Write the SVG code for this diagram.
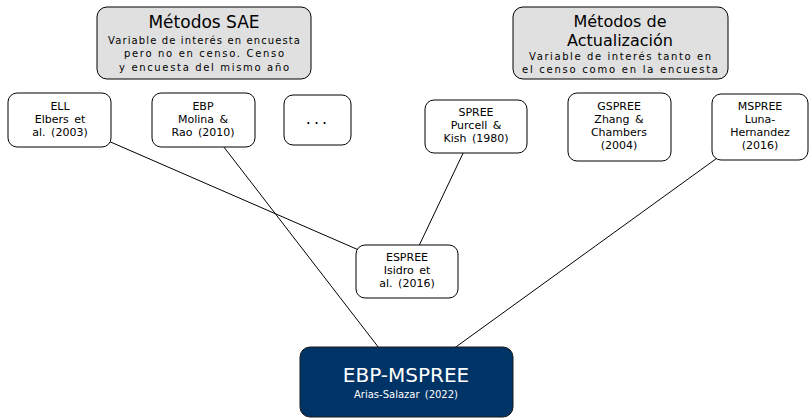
<svg xmlns="http://www.w3.org/2000/svg" width="810" height="420" viewBox="0 0 810 420">
<style>
text{font-family:"DejaVu Sans","Liberation Sans",sans-serif;text-anchor:middle;fill:#000}
.box{fill:#fff;stroke:#000;stroke-width:1}
.gray{fill:#e0e0e0;stroke:#000;stroke-width:1}
.main{fill:#003366;stroke:#1a1a1a;stroke-width:1}
.t{font-size:11px;word-spacing:2px}
.s{font-size:10px}
.h{font-size:16px}
.w{fill:#fff}
line{stroke:#000;stroke-width:1}
</style>
<rect width="810" height="420" fill="#fff"/>
<g id="connectors">
<line x1="60" y1="120" x2="407" y2="271"/>
<line x1="203" y1="120" x2="406" y2="383"/>
<line x1="476" y1="126" x2="407" y2="271"/>
<line x1="760" y1="127" x2="406" y2="383"/>
</g>
<g id="sae">
<rect class="gray" x="97" y="7" width="214" height="72" rx="10"/>
<text class="h" x="204" y="28" style="font-size:17px">Métodos SAE</text>
<text class="s" x="204" y="44" textLength="192" lengthAdjust="spacing">Variable de interés en encuesta</text>
<text class="s" x="204" y="57" textLength="160" lengthAdjust="spacing">pero no en censo.  Censo</text>
<text class="s" x="204" y="71" textLength="170" lengthAdjust="spacing">y encuesta del mismo año</text>
</g>
<g id="actualizacion">
<rect class="gray" x="513" y="7" width="215" height="72" rx="10"/>
<text class="h" x="620" y="27">Métodos de</text>
<text class="h" x="620" y="46">Actualización</text>
<text class="s" x="620" y="60" textLength="182" lengthAdjust="spacing">Variable de interés tanto en</text>
<text class="s" x="620" y="73" textLength="196" lengthAdjust="spacing">el censo como en la encuesta</text>
</g>
<g id="ell">
<rect class="box" x="8" y="93" width="103" height="54" rx="9"/>
<text class="t" x="60" y="110">ELL</text>
<text class="t" x="60" y="123">Elbers et</text>
<text class="t" x="60" y="136">al. (2003)</text>
</g>
<g id="ebp">
<rect class="box" x="152" y="93" width="103" height="54" rx="9"/>
<text class="t" x="203" y="110">EBP</text>
<text class="t" x="203" y="123">Molina &amp;</text>
<text class="t" x="203" y="136">Rao (2010)</text>
</g>
<g id="dots">
<rect class="box" x="284" y="95" width="67" height="50" rx="9"/>
<text x="318" y="124" style="font-size:16px;letter-spacing:3px">...</text>
</g>
<g id="spree">
<rect class="box" x="425" y="100" width="102" height="53" rx="9"/>
<text class="t" x="476" y="116">SPREE</text>
<text class="t" x="476" y="129">Purcell &amp;</text>
<text class="t" x="476" y="142">Kish (1980)</text>
</g>
<g id="gspree">
<rect class="box" x="568" y="93" width="103" height="68" rx="9"/>
<text class="t" x="619" y="110">GSPREE</text>
<text class="t" x="619" y="123">Zhang &amp;</text>
<text class="t" x="619" y="136">Chambers</text>
<text class="t" x="619" y="149">(2004)</text>
</g>
<g id="mspree">
<rect class="box" x="712" y="94" width="96" height="66" rx="9"/>
<text class="t" x="760" y="110">MSPREE</text>
<text class="t" x="760" y="123">Luna-</text>
<text class="t" x="760" y="136">Hernandez</text>
<text class="t" x="760" y="149">(2016)</text>
</g>
<g id="espree">
<rect class="box" x="356" y="245" width="102" height="53" rx="9"/>
<text class="t" x="407" y="261">ESPREE</text>
<text class="t" x="407" y="274">Isidro et</text>
<text class="t" x="407" y="287">al. (2016)</text>
</g>
<g id="ebp-mspree">
<rect class="main" x="300" y="347" width="213" height="70" rx="10"/>
<text class="w" x="406" y="382" style="font-size:20px">EBP-MSPREE</text>
<text class="w s" x="406" y="398" style="word-spacing:2px">Arias-Salazar (2022)</text>
</g>
</svg>
